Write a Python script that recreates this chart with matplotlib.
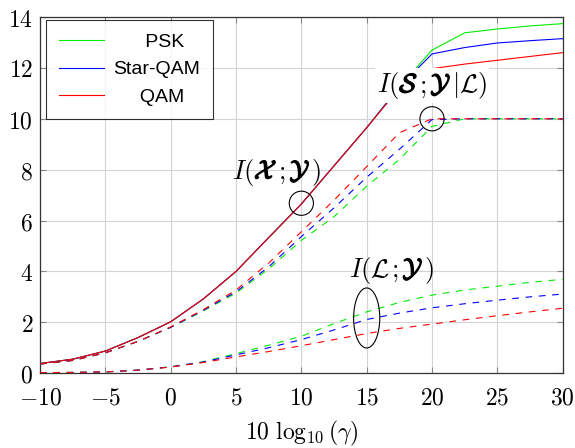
import numpy as np
import matplotlib
matplotlib.use("Agg")
import matplotlib.pyplot as plt
import matplotlib.patheffects as pe
from matplotlib.patches import Ellipse, Rectangle
from matplotlib.ticker import FuncFormatter
from matplotlib.transforms import offset_copy, Bbox, IdentityTransform

plt.rcParams['mathtext.fontset'] = 'cm'

snr = [-10, -7.5, -5, -2.5, 0, 2.5, 5, 7.5, 10, 12.5, 15, 17.5, 20, 22.5, 25, 27.5, 30]

# I(X;Y), solid
ixy_psk  = [0.38, 0.55, 0.87, 1.40, 2.02, 2.92, 4.00, 5.33, 6.65, 8.15, 9.65, 11.25, 12.70, 13.38, 13.53, 13.65, 13.74]
ixy_star = [0.38, 0.55, 0.87, 1.40, 2.02, 2.92, 4.00, 5.33, 6.65, 8.15, 9.65, 11.25, 12.55, 12.80, 12.98, 13.07, 13.15]
ixy_qam  = [0.38, 0.55, 0.87, 1.40, 2.02, 2.92, 4.00, 5.33, 6.65, 8.15, 9.65, 11.20, 11.97, 12.15, 12.30, 12.45, 12.60]

# I(S;Y|L), dashed
isy_psk  = [0.36, 0.50, 0.80, 1.25, 1.80, 2.45, 3.15, 4.10, 5.22, 6.15, 7.35, 8.40, 9.70, 10.0, 10.0, 10.0, 10.0]
isy_star = [0.36, 0.50, 0.80, 1.25, 1.80, 2.47, 3.20, 4.18, 5.37, 6.50, 7.70, 8.80, 9.97, 10.0, 10.0, 10.0, 10.0]
isy_qam  = [0.36, 0.50, 0.80, 1.25, 1.82, 2.50, 3.27, 4.33, 5.56, 6.80, 8.12, 9.45, 10.0, 10.0, 10.0, 10.0, 10.0]

# I(L;Y), dashed
ily_psk  = [0.02, 0.03, 0.05, 0.12, 0.25, 0.45, 0.77, 1.10, 1.45, 1.95, 2.41, 2.78, 3.07, 3.27, 3.42, 3.57, 3.69]
ily_star = [0.02, 0.03, 0.05, 0.12, 0.25, 0.44, 0.72, 1.00, 1.32, 1.70, 2.11, 2.36, 2.57, 2.73, 2.87, 3.00, 3.11]
ily_qam  = [0.02, 0.03, 0.05, 0.12, 0.24, 0.42, 0.64, 0.85, 1.08, 1.32, 1.56, 1.76, 1.93, 2.10, 2.26, 2.41, 2.55]

labels = ['      PSK', 'Star-QAM', '     QAM']
colors = ['#00ee00', '#0000ff', '#ff0000']

fig = plt.figure(figsize=(5.75, 4.48), dpi=100)
ax = fig.add_axes([0.0696, 0.167, 0.909, 0.795])

ixy = [ixy_psk, ixy_star, ixy_qam]
isy = [isy_psk, isy_star, isy_qam]
ily = [ily_psk, ily_star, ily_qam]
for i in range(3):
    ax.plot(snr, ixy[i], color=colors[i], lw=0.8, label=labels[i], zorder=3)
for i in range(3):
    l1, = ax.plot(snr, isy[i], color=colors[i], lw=0.8, zorder=3)
    l2, = ax.plot(snr, ily[i], color=colors[i], lw=0.8, zorder=3)
    l1.set_dashes((6, 6))
    l2.set_dashes((6, 6))

ax.set_xlim(-10, 30)
ax.set_ylim(0, 14)
ax.set_xticks(np.arange(-10, 31, 5))
ax.set_yticks(np.arange(0, 15, 2))
fmt = FuncFormatter(lambda v, p: r'$%d$' % v)
ax.xaxis.set_major_formatter(fmt)
ax.yaxis.set_major_formatter(fmt)
ax.tick_params(direction='in', length=4, width=0.8, color='#888888',
               labelsize=17, top=True, right=True)
ax.tick_params(axis='x', pad=9)
ax.tick_params(axis='y', pad=5)
ax.grid(True, color='#d4d4d4', lw=0.8)
ax.set_axisbelow(True)
for s in ax.spines.values():
    s.set_color('#333333')
    s.set_linewidth(0.9)
ax.set_xlabel(r'$10\ \log_{10}(\gamma)$', fontsize=17, labelpad=7)

# annotations
ax.add_patch(Ellipse((10, 6.68), 1.85, 0.95, fill=False, ec='black', lw=0.8, zorder=5))
ax.add_patch(Ellipse((20, 10.0), 1.85, 0.95, fill=False, ec='black', lw=0.8, zorder=5))
ax.add_patch(Ellipse((15, 2.17), 2.0, 2.36, fill=False, ec='black', lw=0.8, zorder=5))

renderer = fig.canvas.get_renderer()
bold_fx = [pe.withStroke(linewidth=0.9, foreground='black')]


def math_label(x, y, pieces, fs=19, white=False):
    # pieces drawn one after another so the script letters can be heavier
    widths = []
    for p, b, gap in pieces:
        t = ax.text(0, 0, '$' + p + '$', fontsize=fs)
        widths.append(t.get_window_extent(renderer).width + gap)
        t.remove()
    off = -sum(widths) / 2
    boxes = []
    for (p, b, gap), w in zip(pieces, widths):
        tr = offset_copy(ax.transData, fig=fig, x=off, y=0, units='dots')
        t = ax.text(x, y, '$' + p + '$', fontsize=fs, ha='left', va='baseline',
                    transform=tr, zorder=7)
        if b:
            t.set_path_effects(bold_fx)
        boxes.append(t.get_window_extent(renderer))
        off += w
    if white:
        bb = Bbox.union(boxes)
        ax.add_patch(Rectangle((bb.x0 - 2, bb.y0 - 2), bb.width + 4, bb.height + 4,
                               transform=IdentityTransform(), fc='white', ec='none',
                               zorder=6))


math_label(8.08, 7.64, [('I(', False, 0), (r'\mathcal{X}', True, 1), (';', False, 4),
                        (r'\mathcal{Y}', True, 1), (')', False, 0)])
math_label(20.0, 11.04, [('I(', False, 0), (r'\mathcal{S}', True, 1), (';', False, 4),
                         (r'\mathcal{Y}', True, 1), (r'|\mathcal{L})', False, 0)], white=True)
math_label(16.9, 3.79, [(r'I(\mathcal{L}', False, 1), (';', False, 4),
                        (r'\mathcal{Y}', True, 1), (')', False, 0)])

leg = ax.legend(loc='upper left', bbox_to_anchor=(0.011, 0.992), borderaxespad=0,
                frameon=True, fancybox=False, edgecolor='black', handlelength=2.3,
                borderpad=0.7, labelspacing=0.5, handletextpad=0.45,
                prop={'family': ['Liberation Sans', 'DejaVu Sans'], 'size': 14})
leg.get_frame().set_linewidth(0.8)
leg.set_zorder(8)

fig.savefig('out.png', dpi=100)
